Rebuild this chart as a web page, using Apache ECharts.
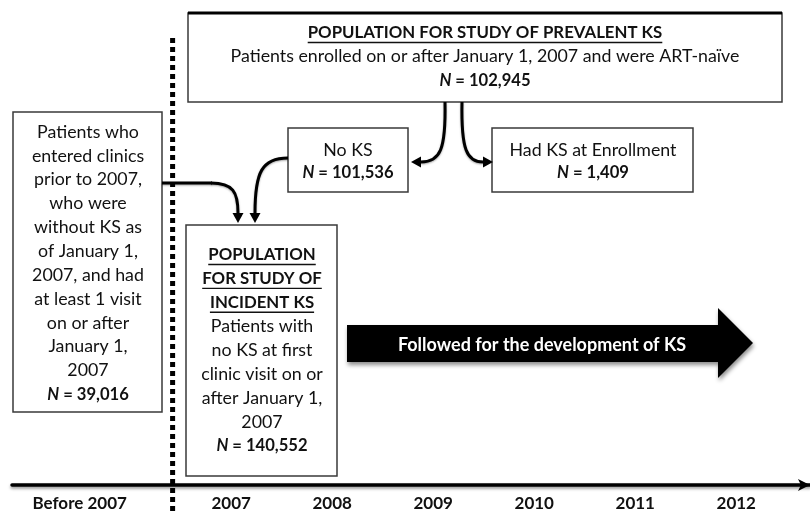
<!DOCTYPE html>
<html>
<head>
<meta charset="utf-8">
<script src="https://cdn.jsdelivr.net/npm/echarts@6/dist/echarts.min.js"></script>
<style>
  html, body { margin: 0; padding: 0; background: #fff; }
  #chart { width: 810px; height: 513px; }
</style>
</head>
<body>
<div id="chart"></div>
<script>
// timeline ticks
const yearLabels = ['Before 2007', '2007', '2008', '2009', '2010', '2011', '2012'];
const yearValues = [2005.5, 2007, 2008, 2009, 2010, 2011, 2012];
const cutoffYear = 2006.42;

// box contents
const prevalentTitle = 'POPULATION FOR STUDY OF PREVALENT KS';
const prevalentText = ['Patients enrolled on or after January 1, 2007 and were ART-naïve'];
const prevalentN = '102,945';
const noKsText = ['No KS'];
const noKsN = '101,536';
const hadKsText = ['Had KS at Enrollment'];
const hadKsN = '1,409';
const priorText = ['Patients who', 'entered clinics', 'prior to 2007,', 'who were', 'without KS as',
  'of January 1,', '2007, and had', 'at least 1 visit', 'on or after', 'January 1,', '2007'];
const priorN = '39,016';
const incidentTitle = ['POPULATION', 'FOR STUDY OF', 'INCIDENT KS'];
const incidentText = ['Patients with', 'no KS at first', 'clinic visit on or', 'after January 1,', '2007'];
const incidentN = '140,552';
const followText = 'Followed for the development of KS';

const FONT = 'Lato';
const FS = 17.8;      // body text
const FS_T = 16.8;    // underlined titles
const FS_N = 16.6;    // N = ... lines
const LH = 23.85;
const INK = '#111';

let chart = echarts.init(document.getElementById('chart'));

// measure text so the underline fits the title
let ctx = document.createElement('canvas').getContext('2d');
function textWidth(str, font) {
    ctx.font = font;
    return ctx.measureText(str).width;
}

function box(x, y, w, h) {
    return {
        type: 'rect',
        shape: { x: x, y: y, width: w, height: h },
        style: { fill: '#fff', stroke: '#3a3a3a', lineWidth: 1.5 }
    };
}

function line(cx, y, str) {
    return {
        type: 'text',
        x: cx, y: y,
        style: {
            text: str, fill: INK, align: 'center', verticalAlign: 'middle',
            font: FS + 'px ' + FONT
        }
    };
}

function titleLine(cx, y, str) {
    let font = 'bold ' + FS_T + 'px ' + FONT;
    let w = textWidth(str, font);
    return [
        {
            type: 'text',
            x: cx, y: y,
            style: { text: str, fill: INK, align: 'center', verticalAlign: 'middle', font: font }
        },
        {
            type: 'line',
            shape: { x1: cx - w / 2, y1: y + 9.5, x2: cx + w / 2, y2: y + 9.5 },
            style: { stroke: INK, lineWidth: 1.4 }
        }
    ];
}

function nLine(cx, y, n) {
    return {
        type: 'text',
        x: cx, y: y,
        style: {
            text: '{i|N}{b| = ' + n + '}',
            align: 'center', verticalAlign: 'middle',
            rich: {
                i: { font: 'italic bold ' + FS_N + 'px ' + FONT, fill: INK },
                b: { font: 'bold ' + FS_N + 'px ' + FONT, fill: INK }
            }
        }
    };
}

const connStyle = { stroke: '#000', lineWidth: 3, fill: null, shadowBlur: 2, shadowColor: 'rgba(0,0,0,0.35)', shadowOffsetY: 1 };

function curve(x1, y1, cx1, cy1, cx2, cy2, x2, y2) {
    return {
        type: 'bezierCurve',
        shape: { x1: x1, y1: y1, cpx1: cx1, cpy1: cy1, cpx2: cx2, cpy2: cy2, x2: x2, y2: y2 },
        style: connStyle
    };
}

function head(tx, ty, dir) {
    // dir: 'down' | 'left' | 'right'
    let p;
    if (dir === 'down') p = [[tx, ty], [tx - 5.5, ty - 10], [tx + 5.5, ty - 10]];
    else if (dir === 'left') p = [[tx, ty], [tx + 10, ty - 5.5], [tx + 10, ty + 5.5]];
    else p = [[tx, ty], [tx - 10, ty - 5.5], [tx - 10, ty + 5.5]];
    return { type: 'polygon', shape: { points: p }, style: { fill: '#000' } };
}

let els = [];

// top box: prevalent KS
els.push(box(188, 13, 594, 89));
els.push({ type: 'line', shape: { x1: 188, y1: 13, x2: 782, y2: 13 }, style: { stroke: '#000', lineWidth: 3 } });
els = els.concat(titleLine(485, 33, prevalentTitle));
prevalentText.forEach((t, i) => els.push(line(485, 56 + i * LH, t)));
els.push(nLine(485, 81, prevalentN));

// No KS / Had KS boxes
els.push(box(288, 128, 120, 64));
noKsText.forEach((t, i) => els.push(line(348, 150 + i * LH, t)));
els.push(nLine(348, 173, noKsN));
els.push(box(492, 128, 201, 64));
hadKsText.forEach((t, i) => els.push(line(593, 150 + i * LH, t)));
els.push(nLine(593, 173, hadKsN));

// prior patients box
els.push(box(13, 112, 149, 300));
priorText.forEach((t, i) => els.push(line(88, 132 + i * LH, t)));
els.push(nLine(88, 132 + priorText.length * LH, priorN));

// incident KS box
els.push(box(186, 225, 151, 251));
incidentTitle.forEach((t, i) => { els = els.concat(titleLine(262, 255 + i * LH, t)); });
incidentText.forEach((t, i) => els.push(line(262, 255 + (i + 3) * LH, t)));
els.push(nLine(262, 255 + (incidentTitle.length + incidentText.length) * LH, incidentN));

// connectors
els.push(curve(445, 102, 446, 150, 440, 162, 421, 162));
els.push(head(411, 162, 'left'));
els.push(curve(462, 102, 461, 150, 467, 162, 483, 162));
els.push(head(493, 162, 'right'));
els.push(curve(288, 158, 262, 158, 255, 172, 255, 213));
els.push(head(255, 223, 'down'));
els.push({ type: 'polyline', shape: { points: [[162, 183], [212, 183]] }, style: connStyle });
els.push(curve(211, 183, 233, 183, 238, 192, 238, 213));
els.push(head(238, 223, 'down'));

// follow-up arrow
els.push({
    type: 'polygon',
    shape: { points: [[347, 325], [718, 325], [718, 308], [753, 343], [718, 378], [718, 362], [347, 362]] },
    style: { fill: '#000', shadowBlur: 4, shadowColor: 'rgba(0,0,0,0.45)', shadowOffsetX: 1, shadowOffsetY: 3 }
});
els.push({
    type: 'text', x: 542, y: 345,
    style: { text: followText, fill: '#fff', align: 'center', verticalAlign: 'middle', font: 'bold 18px ' + FONT }
});

let option = {
    animation: false,
    backgroundColor: '#fff',
    grid: { left: 12, right: 0, top: 38, bottom: 28 },
    xAxis: {
        type: 'value',
        min: 2004.83,
        max: 2012.73,
        splitLine: { show: false },
        axisTick: { show: false },
        axisLine: {
            onZero: false,
            symbol: ['none', 'arrow'],
            symbolSize: [9, 12],
            lineStyle: { color: '#000', width: 3.5, shadowBlur: 3, shadowColor: 'rgba(0,0,0,0.4)', shadowOffsetY: 2 }
        },
        axisLabel: {
            customValues: yearValues,
            formatter: v => yearLabels[yearValues.indexOf(v)],
            color: INK,
            fontFamily: FONT,
            fontWeight: 'bold',
            fontSize: 17,
            margin: 10
        }
    },
    yAxis: { type: 'value', min: 0, max: 1, show: false },
    series: [{
        type: 'line',
        clip: false,
        symbol: 'none',
        silent: true,
        z: 5,
        lineStyle: { color: '#000', width: 5, type: [5, 4] },
        data: [[cutoffYear, 1], [cutoffYear, -0.07]]
    }],
    graphic: { elements: els }
};

chart.setOption(option);
</script>
</body>
</html>
